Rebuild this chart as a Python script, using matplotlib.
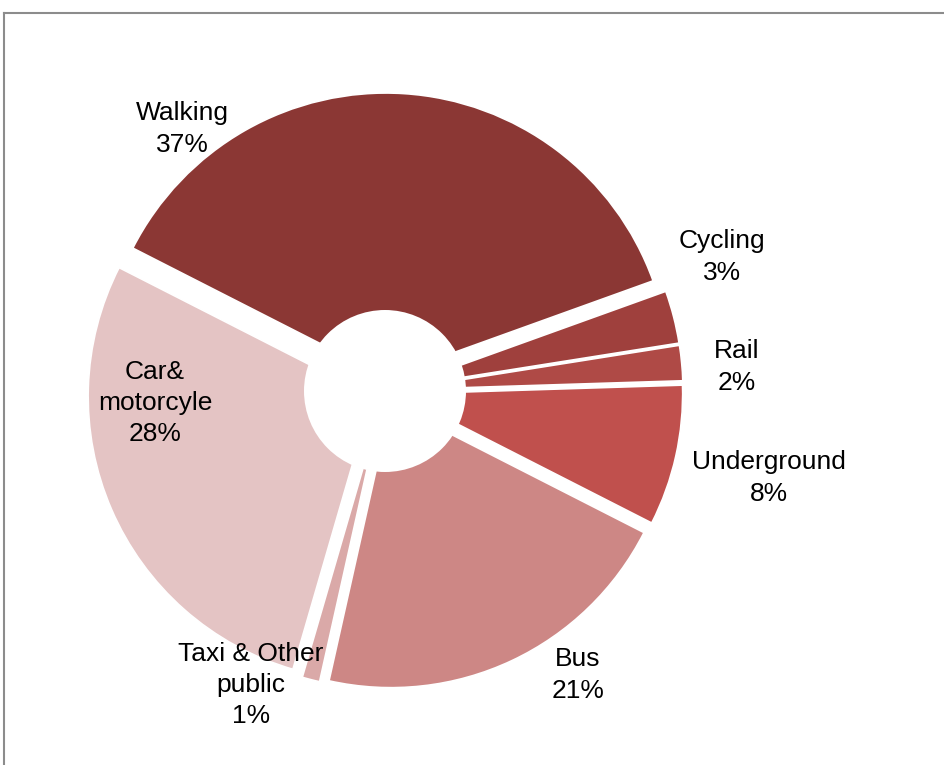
import matplotlib
matplotlib.use("Agg")
import matplotlib.pyplot as plt
from matplotlib.patches import Circle
from matplotlib.lines import Line2D

plt.rcParams['font.family'] = ['Liberation Sans', 'DejaVu Sans']

categories = ["Walking", "Cycling", "Rail", "Underground", "Bus", "Taxi & Other\npublic", "Car&\nmotorcyle"]
values = [37, 3, 2, 8, 21, 1, 28]
colors = ["#8B3734", "#9F403D", "#AF4A46", "#C0504D", "#CD8785", "#DAA9A8", "#E4C4C4"]
# label block centres in pixels (x, y from top)
label_pos = [(182, 129), (722, 257), (737, 367), (769, 478), (578, 675), (251, 685), (155, 403)]

W, H = 945, 765
fig = plt.figure(figsize=(W / 100, H / 100), dpi=100)
ax = fig.add_axes([0, 0, 1, 1])

cx, cy = 385, H - 391
R = 284
ax.pie(values, colors=colors, startangle=153, counterclock=False,
       explode=[14] * len(values), radius=R, center=(cx, cy),
       wedgeprops=dict(edgecolor="white", linewidth=1.2))
ax.add_patch(Circle((cx, cy), 81, facecolor="white", edgecolor="none", zorder=5))
ax.set_xlim(0, W)
ax.set_ylim(0, H)
ax.set_aspect('equal')
ax.axis('off')

for cat, v, (px, py) in zip(categories, values, label_pos):
    fig.text(px / W, 1 - py / H, f"{cat}\n{v}%", ha="center", va="center",
             fontsize=19, color="black", linespacing=1.37)

# outer chart frame (top and left visible)
fig.add_artist(Line2D([4 / W, 1], [1 - 12.5 / H, 1 - 12.5 / H], color="#8c8c8c", linewidth=1.5,
                      transform=fig.transFigure))
fig.add_artist(Line2D([4 / W, 4 / W], [0, 1 - 12.5 / H], color="#8c8c8c", linewidth=1.5,
                      transform=fig.transFigure))

fig.savefig("out.png", dpi=100, facecolor="white")
